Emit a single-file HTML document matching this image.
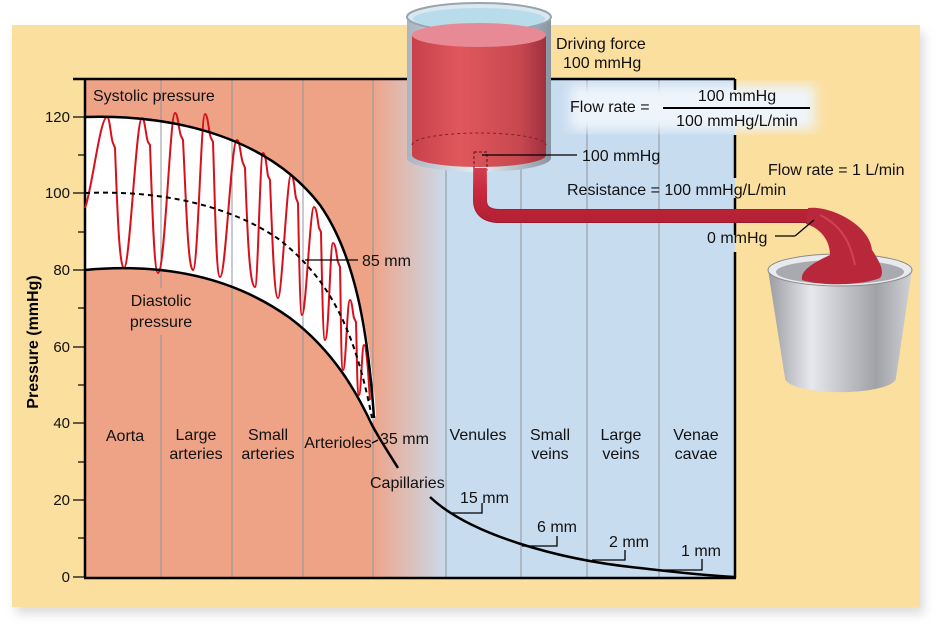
<!DOCTYPE html>
<html><head><meta charset="utf-8"><style>
html,body{margin:0;padding:0;background:#fff;}
svg{display:block;font-family:"Liberation Sans",sans-serif;}
</style></head><body>
<svg width="944" height="637" viewBox="0 0 944 637" xmlns="http://www.w3.org/2000/svg">
<defs>
<linearGradient id="bg" x1="0" x2="1" y1="0" y2="0">
<stop offset="0" stop-color="#efa386"/>
<stop offset="0.44" stop-color="#efa386"/>
<stop offset="0.56" stop-color="#c8dcf0"/>
<stop offset="1" stop-color="#c8dcf0"/>
</linearGradient>
<linearGradient id="cyl" x1="0" x2="1">
<stop offset="0" stop-color="#c8404a"/><stop offset="0.35" stop-color="#e0585c"/><stop offset="0.8" stop-color="#c84850"/><stop offset="1" stop-color="#a03040"/>
</linearGradient>
<linearGradient id="glass" x1="0" x2="1">
<stop offset="0" stop-color="#a8b4c0"/><stop offset="0.5" stop-color="#e8eef4"/><stop offset="1" stop-color="#8894a0"/>
</linearGradient>
<linearGradient id="bucket" x1="0" x2="1">
<stop offset="0" stop-color="#9a9ca2"/><stop offset="0.3" stop-color="#e6e8ec"/><stop offset="0.75" stop-color="#a0a2a8"/><stop offset="1" stop-color="#d0d2d6"/>
</linearGradient>
<linearGradient id="pipe" x1="0" x2="0" y1="0" y2="1">
<stop offset="0" stop-color="#e06070"/><stop offset="0.5" stop-color="#c8283c"/><stop offset="1" stop-color="#9a1a2c"/>
</linearGradient>
<filter id="sh" x="-5%" y="-5%" width="110%" height="115%"><feGaussianBlur stdDeviation="5"/></filter>
<filter id="glow"><feGaussianBlur stdDeviation="6"/></filter>
</defs>
<rect x="16" y="32" width="908" height="582" fill="#bbb" opacity="0.5" filter="url(#sh)"/>
<rect x="12" y="25" width="908" height="582" fill="#fbdf9f"/>
<rect x="85" y="79" width="650" height="498" fill="url(#bg)"/>
<path d="M85,117 C180,114 270,140 320,205 C355,255 370,330 376,415 L372,425 C360,400 340,355 290,318 C230,275 160,263 85,270 Z" fill="#fff"/>
<g stroke="#8f959c" stroke-width="1">
<line x1="161" y1="79" x2="161" y2="288"/><line x1="161" y1="335" x2="161" y2="577"/>
<line x1="232" y1="79" x2="232" y2="577"/>
<line x1="303" y1="79" x2="303" y2="577"/><line x1="373" y1="79" x2="373" y2="577"/>
<line x1="446" y1="160" x2="446" y2="577"/><line x1="521" y1="160" x2="521" y2="577"/>
<line x1="587" y1="79" x2="587" y2="577"/><line x1="659" y1="79" x2="659" y2="577"/>
</g>
<rect x="570" y="85" width="245" height="45" fill="#eef4fb" filter="url(#glow)"/>
<g stroke="#000" stroke-width="2.5" fill="none">
<line x1="85" y1="79" x2="85" y2="578"/>
<line x1="84" y1="578" x2="736" y2="578"/>
<line x1="73" y1="79" x2="410" y2="79"/>
<line x1="550" y1="79" x2="735" y2="79"/>
<line x1="735" y1="79" x2="735" y2="90"/>
<line x1="735" y1="135" x2="735" y2="178"/>
<line x1="735" y1="198" x2="735" y2="235"/>
<line x1="735" y1="252" x2="735" y2="578"/>
</g>
<g stroke="#000" stroke-width="1.2">
<line x1="73" y1="117" x2="85" y2="117"/><line x1="78" y1="155" x2="85" y2="155"/>
<line x1="73" y1="193" x2="85" y2="193"/><line x1="78" y1="232" x2="85" y2="232"/>
<line x1="73" y1="270" x2="85" y2="270"/><line x1="78" y1="308" x2="85" y2="308"/>
<line x1="73" y1="347" x2="85" y2="347"/><line x1="78" y1="385" x2="85" y2="385"/>
<line x1="73" y1="423" x2="85" y2="423"/><line x1="78" y1="462" x2="85" y2="462"/>
<line x1="73" y1="500" x2="85" y2="500"/><line x1="78" y1="538" x2="85" y2="538"/>
<line x1="73" y1="577" x2="85" y2="577"/>
</g>
<g font-size="15" text-anchor="end" fill="#111">
<text x="70" y="122">120</text><text x="70" y="198">100</text><text x="70" y="275">80</text>
<text x="70" y="352">60</text><text x="70" y="428">40</text><text x="70" y="505">20</text><text x="70" y="582">0</text>
</g>
<text transform="translate(38,342) rotate(-90)" font-size="16" font-weight="bold" text-anchor="middle">Pressure (mmHg)</text>
<path fill="none" stroke="#d8101c" stroke-width="2" d="M85,208 C92,190 100,117 107,117 C110,117 111,140 113,143 L115,148 C117,200 119,268 124,268
C130,268 136,118 142,118 C145,118 146,138 148,142 L150,145 C152,200 154,273 158,273
C165,273 170,113 175,113 C178,113 179,132 181,136 L183,140 C186,200 188,270 193,270
C198,270 201,114 205,114 C208,114 209,135 211,138 L213,142 C215,200 216,277 220,277
C226,277 231,140 237,140 C240,140 241,160 243,163 L245,168 C247,220 249,287 255,287
C258,287 260,153 263,153 C266,153 267,172 268,176 L270,180 C272,230 274,298 278,298
C282,298 287,175 291,175 C294,175 295,195 296,198 L298,203 C299,250 300,315 302,315
C306,315 310,207 314,207 C317,207 318,225 319,228 L321,232 C322,280 323,340 325,340
C329,340 330,243 333,243 C336,243 337,260 338,262 L340,267 C341,310 341,370 343,370
C346,370 347,300 350,300 C352,300 353,315 354,318 L356,322 C357,355 357,395 359,395
C361,395 362,345 364,345 C366,345 367,360 368,370 L370,400"/>
<g fill="none" stroke="#000" stroke-width="2.5">
<path d="M85,117 C180,114 270,140 320,205 C355,255 368,330 374,418"/>
<path d="M85,270 C160,263 230,275 290,318 C335,352 358,395 372,425 C380,440 390,455 398,468"/>
<path d="M430,497 C470,535 560,560 640,568 C690,574 715,576 735,577"/>
</g>
<path d="M85,193 C160,190 230,205 280,240 C330,280 355,330 372,418" fill="none" stroke="#000" stroke-width="2" stroke-dasharray="5,4"/>
<g stroke="#000" stroke-width="1.3" fill="none">
<path d="M305,260 L358,260"/>
<path d="M372,443 L378,440"/>
<path d="M452,513 L482,513 L482,503"/>
<path d="M522,546 L557,546 L557,536"/>
<path d="M592,560 L625,560 L625,550"/>
<path d="M660,570 L702,570 L702,559"/>
</g>
<g font-size="16" fill="#111">
<text x="93" y="101">Systolic pressure</text>
<text x="161" y="306" text-anchor="middle">Diastolic</text>
<text x="161" y="327" text-anchor="middle">pressure</text>
<text x="362" y="266">85 mm</text>
<text x="125" y="441" text-anchor="middle">Aorta</text>
<text x="196" y="440" text-anchor="middle">Large</text><text x="196" y="459" text-anchor="middle">arteries</text>
<text x="268" y="440" text-anchor="middle">Small</text><text x="268" y="459" text-anchor="middle">arteries</text>
<text x="338" y="448" text-anchor="middle">Arterioles</text>
<text x="380" y="444">35 mm</text>
<text x="478" y="440" text-anchor="middle">Venules</text>
<text x="550" y="440" text-anchor="middle">Small</text><text x="550" y="459" text-anchor="middle">veins</text>
<text x="621" y="440" text-anchor="middle">Large</text><text x="621" y="459" text-anchor="middle">veins</text>
<text x="696" y="440" text-anchor="middle">Venae</text><text x="696" y="459" text-anchor="middle">cavae</text>
<text x="370" y="488">Capillaries</text>
<text x="460" y="503">15 mm</text>
<text x="537" y="532">6 mm</text>
<text x="609" y="547">2 mm</text>
<text x="681" y="556">1 mm</text>
</g>
<path d="M407,17 L407,158 A72,14 0 0 0 551,158 L551,17 Z" fill="url(#glass)"/>
<ellipse cx="479" cy="17" rx="72" ry="14" fill="#d8e8ee" stroke="#9aa4ae" stroke-width="2"/>
<ellipse cx="479" cy="19" rx="66" ry="11" fill="#b8dcea"/>
<path d="M412,35 L412,155 A67,12 0 0 0 546,155 L546,35 Z" fill="url(#cyl)"/>
<ellipse cx="479" cy="35" rx="67" ry="12" fill="#e88a96"/>
<path d="M412,145 A67,12 0 0 1 546,145" fill="none" stroke="#802028" stroke-width="1" stroke-dasharray="3,3"/>
<rect x="474" y="152" width="13" height="18" fill="none" stroke="#601018" stroke-width="1" stroke-dasharray="3,2"/>
<line x1="482" y1="155" x2="577" y2="155" stroke="#000" stroke-width="1.3"/>
<path d="M480,168 L480,200 Q480,216 500,216 L812,216" fill="none" stroke="url(#pipe)" stroke-width="14"/>
<path d="M480,168 L480,200 Q480,216 500,216 L812,216" fill="none" stroke="#c8283c" stroke-width="12" opacity="0.6"/>
<path d="M768,270 L785,378 A55,14 0 0 0 896,378 L912,270 Z" fill="url(#bucket)"/>
<ellipse cx="840" cy="270" rx="72" ry="16" fill="#e8eaee" stroke="#888" stroke-width="1"/>
<ellipse cx="840" cy="272" rx="64" ry="12" fill="#a8aab0"/>
<path d="M808,208 C830,205 870,225 872,250 C880,262 885,272 880,278 C860,286 820,286 802,280 C800,270 815,262 830,255 C830,240 820,228 806,224 Z" fill="#b8283a"/>
<path d="M820,215 C840,225 850,240 855,265" fill="none" stroke="#d85060" stroke-width="2" opacity="0.7"/>
<line x1="775" y1="236" x2="795" y2="236" stroke="#000" stroke-width="1.3"/>
<line x1="795" y1="236" x2="814" y2="220" stroke="#000" stroke-width="1.3"/>
<g font-size="16" fill="#111">
<text x="556" y="49">Driving force</text>
<text x="563" y="68">100 mmHg</text>
<text x="570" y="112">Flow rate =</text>
<line x1="663" y1="108" x2="810" y2="108" stroke="#000" stroke-width="2"/>
<text x="737" y="101" text-anchor="middle">100 mmHg</text>
<text x="737" y="126" text-anchor="middle">100 mmHg/L/min</text>
<text x="582" y="161">100 mmHg</text>
<text x="567" y="195">Resistance = 100 mmHg/L/min</text>
<text x="768" y="175">Flow rate = 1 L/min</text>
<text x="707" y="243">0 mmHg</text>
</g>
</svg>
</body></html>
